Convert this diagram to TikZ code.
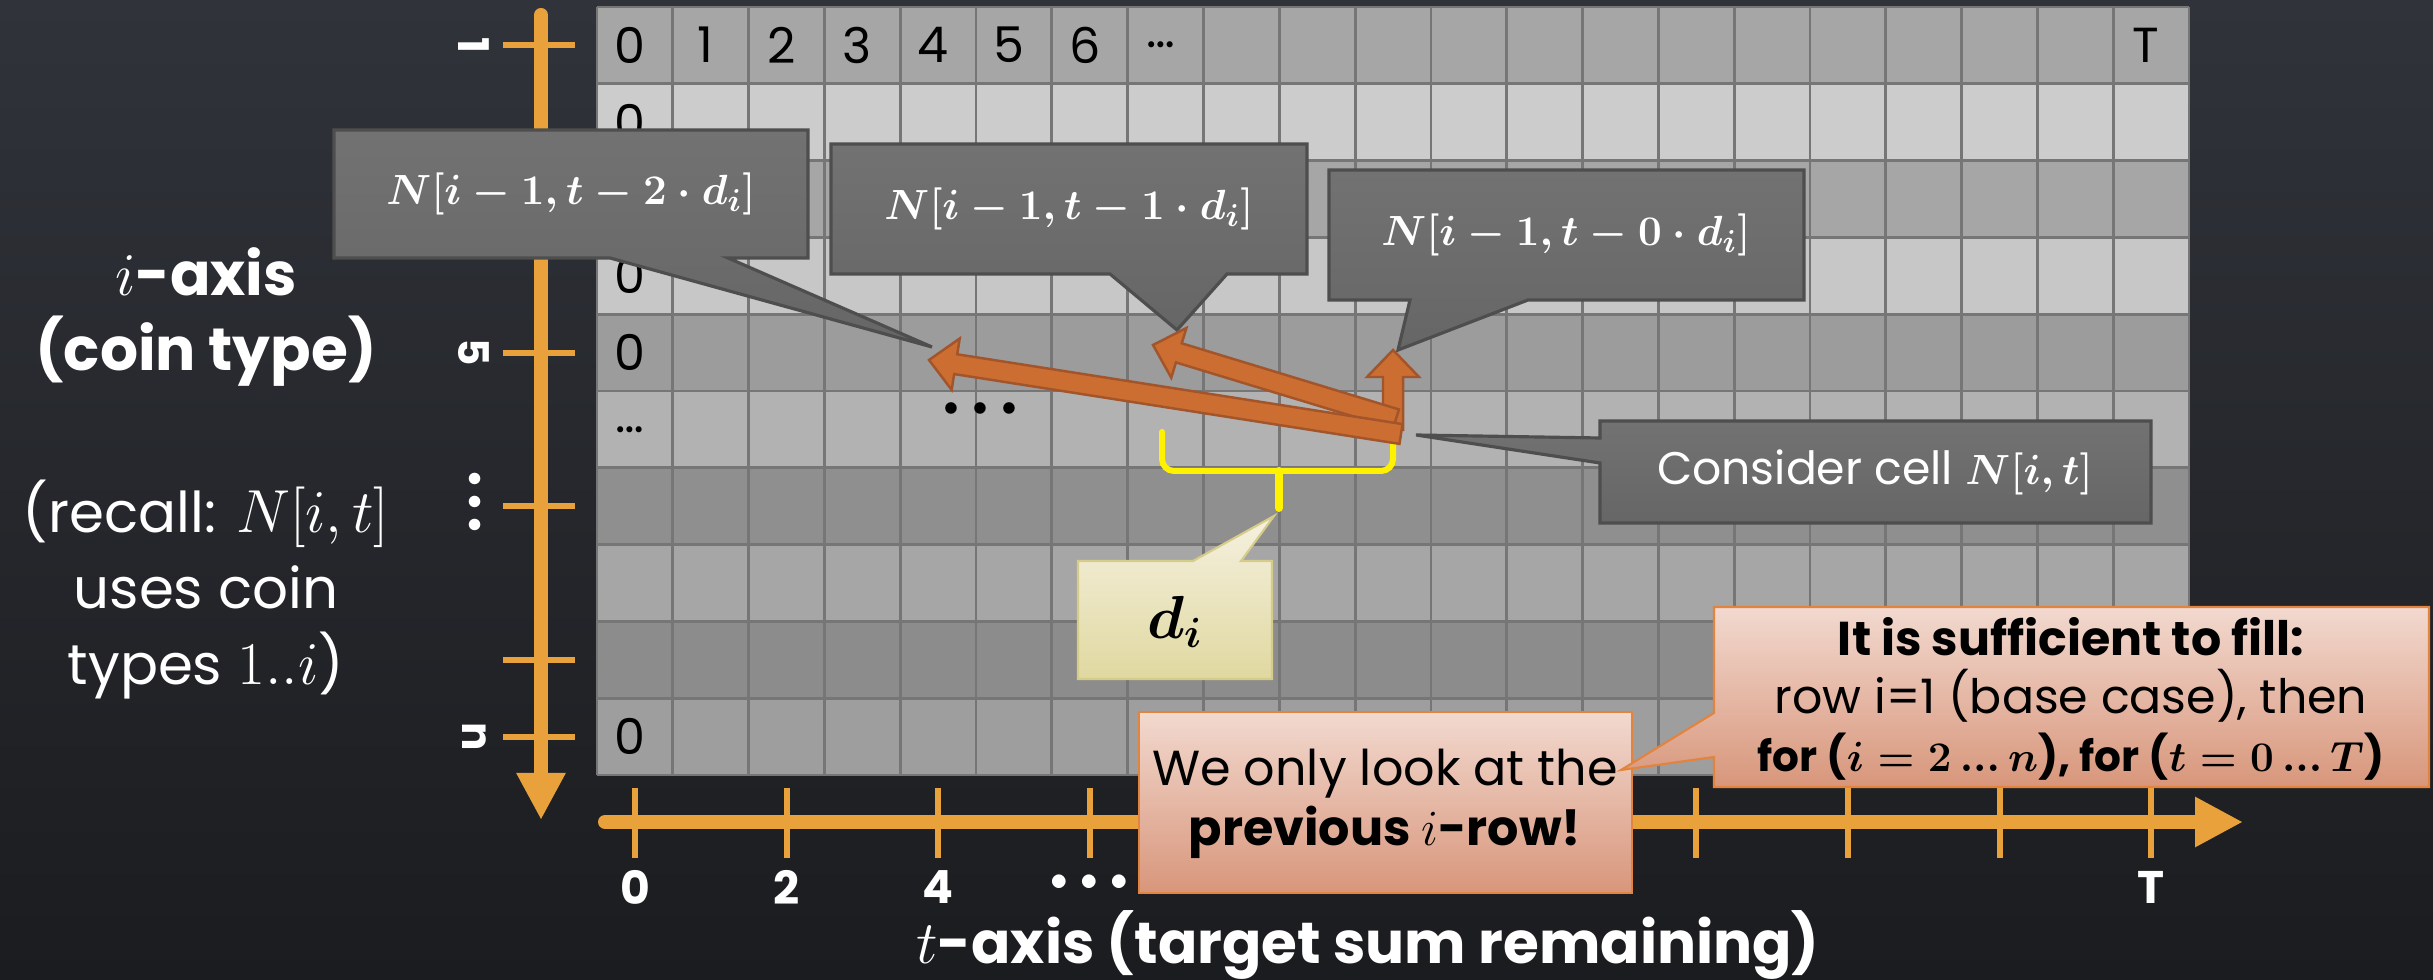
\documentclass[tikz,border=0pt]{standalone}
\usepackage{amsmath}
\usepackage[no-math]{fontspec}
\setmainfont{Poppins}
\usetikzlibrary{calc,arrows.meta}
\definecolor{bgtop}{HTML}{30333A}
\definecolor{bgbot}{HTML}{1B1C1F}
\definecolor{axisor}{HTML}{E9A23B}
\definecolor{gridline}{HTML}{767676}
\definecolor{boxtop}{HTML}{727272}
\definecolor{boxbot}{HTML}{666666}
\definecolor{boxline}{HTML}{4E4E4E}
\definecolor{notetop}{HTML}{F2D9CF}
\definecolor{notebot}{HTML}{D8967B}
\definecolor{notedge}{HTML}{E2833E}
\definecolor{hinttop}{HTML}{F5F1E0}
\definecolor{hintbot}{HTML}{E0D8A0}
\definecolor{hintedge}{HTML}{D6CC8A}
\definecolor{pushfill}{HTML}{CC6E31}
\definecolor{pushedge}{HTML}{A2542A}
\begin{document}
\begin{tikzpicture}[x=0.01cm,y=-0.01cm,
	cell/.style={font=\fontsize{14}{16}\selectfont},
	callout/.style={draw=boxline,line width=0.9pt,top color=boxtop,bottom color=boxbot},
	note/.style={draw=notedge,line width=0.6pt,top color=notetop,bottom color=notebot},
	hint/.style={draw=hintedge,line width=0.6pt,top color=hinttop,bottom color=hintbot},
	calltext/.style={text=white,font=\fontsize{12.5}{15}\selectfont},
	notetext/.style={align=center,font=\fontsize{13.5}{16.5}\selectfont},
	axis/.style={draw=axisor,line width=1.4mm},
	tick/.style={draw=axisor,line width=0.6mm},
	ticklab/.style={text=white,font=\bfseries\fontsize{13}{15}\selectfont},
	brace/.style={draw=yellow,line width=0.6mm,line cap=round,rounded corners=1.2mm},
	push/.style={fill=pushfill,draw=pushedge,line width=0.7pt}]
	\newcommand{\blockarrow}[2]{%
		\coordinate (hb) at ($(#2)!2.7mm!(#1)$);
		\draw[push] ($(#1)!1mm!90:(#2)$) -- ($(hb)!1mm!-90:(#1)$) -- ($(hb)!2.6mm!-90:(#1)$) -- (#2)
			-- ($(hb)!2.6mm!90:(#1)$) -- ($(hb)!1mm!90:(#1)$) -- ($(#1)!1mm!-90:(#2)$) -- cycle;}
	\fill[top color=bgtop,bottom color=bgbot] (0,0) rectangle (2433,980);
	\useasboundingbox (0,0) rectangle (2433,980);
	% left text
	\node[text=white,align=center,font=\bfseries\fontsize{17}{21.6}\selectfont] (iaxis) at (206,317) {$i$-axis\\(coin type)};
	\node[text=white,align=center,font=\fontsize{16}{21.6}\selectfont] (recall) at (206,590) {(recall: $N[i,t]$\\uses coin\\types $1..i$)};
	% table
	\foreach \r/\g in {1/65,2/80,3/65,4/78,5/61,6/70,7/56,8/65,9/55,10/62}
		\fill[white!\g!black] (597,{7+76.8*(\r-1)}) rectangle (2189,{7+76.8*\r});
	\foreach \c in {0,...,21} \draw[gridline,line width=0.8pt] ({597+75.81*\c},7) -- ++(0,768);
	\foreach \r in {0,...,10} \draw[gridline,line width=0.8pt] (597,{7+76.8*\r}) -- ++(1592,0);
	\foreach \c/\t in {1/0,2/1,3/2,4/3,5/4,6/5,7/6,8/\ldots,21/T}
		\node[cell] (h\c) at ({597+75.81*(\c-0.5)-5},45) {\t};
	\foreach \r/\t in {2/0,3/0,4/0,5/0,6/\ldots,10/0}
		\node[cell] (z\r) at (630,{7+76.8*(\r-0.5)}) {\t};
	\node[font=\fontsize{8}{8}\selectfont] (gdots) at (980,409) {${\bullet}\hspace{4pt}{\bullet}\hspace{4pt}{\bullet}$};
	% axes
	\draw[axis,line cap=round,-{Triangle[width=4.6mm,length=4.7mm]}] (541,15) -- (541,820);
	\draw[axis,line cap=round,-{Triangle[width=4.7mm,length=4.8mm]}] (605,822) -- (2243,822);
	\foreach \r in {1,5,7,9,10} \draw[tick] (503,{7+76.8*(\r-0.5)}) -- ++(72,0);
	\foreach \r/\t in {1/1,5/5,10/n}
		\node[rotate=-90,text=white,font=\bfseries\fontsize{12}{14}\selectfont] (il\r) at (474,{7+76.8*(\r-0.5)}) {\t};
	\node[rotate=-90,text=white,font=\fontsize{8.5}{8}\selectfont] (il7) at (474,502) {${\bullet}\hspace{2.3pt}{\bullet}\hspace{2.3pt}{\bullet}$};
	\foreach \c in {1,3,5,7,9,11,13,15,17,19,21} \draw[tick] ({597+75.81*(\c-0.5)},788) -- ++(0,70);
	\foreach \c/\t in {1/0,3/2,5/4,21/T} \node[ticklab] (tl\c) at ({597+75.81*(\c-0.5)},887) {\t};
	\node[text=white,font=\fontsize{10}{10}\selectfont] (tdots) at (1089,883) {${\bullet}\hspace{3.5pt}{\bullet}\hspace{3.5pt}{\bullet}$};
	\node[text=white,font=\bfseries\fontsize{16.5}{18}\selectfont] (taxis) at (1368,945) {$t$-axis (target sum remaining)};
	% brace under the d_i cells
	\draw[brace] (1162,432) -- (1162,471) -- (1393,471) -- (1393,440);
	\draw[brace,line width=0.8mm] (1279,471) -- (1279,508);
	% callouts
	\draw[callout] (334,130) -- (808,130) -- (808,258) -- (728,258) -- (932,347) -- (610,258) -- (334,258) -- cycle;
	\node[calltext] (two) at (571,194) {$\boldsymbol{N[i-1,t-2\cdot d_i]}$};
	\draw[callout] (831,144) -- (1307,144) -- (1307,274) -- (1227,274) -- (1177,330) -- (1110,274) -- (831,274) -- cycle;
	\node[calltext] (one) at (1069,209) {$\boldsymbol{N[i-1,t-1\cdot d_i]}$};
	\draw[callout] (1329,170) -- (1804,170) -- (1804,300) -- (1528,300) -- (1398,350) -- (1410,300) -- (1329,300) -- cycle;
	\node[calltext] (zero) at (1566,235) {$\boldsymbol{N[i-1,t-0\cdot d_i]}$};
	\draw[callout] (1600,421) -- (2151,421) -- (2151,523) -- (1600,523) -- (1600,463) -- (1416,435) -- (1600,438) -- cycle;
	\node[calltext,font=\fontsize{13}{15}\selectfont] (cons) at (1875,472) {Consider cell $\boldsymbol{N[i,t]}$};
	\draw[hint] (1078,561) -- (1193,561) -- (1274,516) -- (1241,561) -- (1272,561) -- (1272,679) -- (1078,679) -- cycle;
	\node[font=\fontsize{18.5}{20}\selectfont] (di) at (1175,622) {$\boldsymbol{d_i}$};
	\draw[note] (1139,712) rectangle (1632,893);
	\node[notetext,font=\fontsize{14}{17}\selectfont] (prev) at (1385,804) {We only look at the\\\textbf{previous $i$-row!}};
	\draw[note] (1714,607) -- (2429,607) -- (2429,787) -- (1714,787) -- (1714,757) -- (1621,770) -- (1714,713) -- cycle;
	\node[notetext] (fill) at (2071,699) {\thickmuskip=3mu\textbf{It is sufficient to fill:}\\row i=1 (base case), then\\
		\fontsize{12}{14}\selectfont\textbf{for ($\boldsymbol{i=2\,...\,n}$), for ($\boldsymbol{t=0\,...\,T}$)}};
	% the three look-ups from N[i,t]
	\coordinate (src0) at (1393,430); \coordinate (to0) at (1393,350);
	\coordinate (src1) at (1396,419); \coordinate (to1) at (1153,345);
	\coordinate (src2) at (1401,434); \coordinate (to2) at (929,360);
	\blockarrow{src0}{to0}
	\blockarrow{src1}{to1}
	\blockarrow{src2}{to2}
\end{tikzpicture}
\end{document}
